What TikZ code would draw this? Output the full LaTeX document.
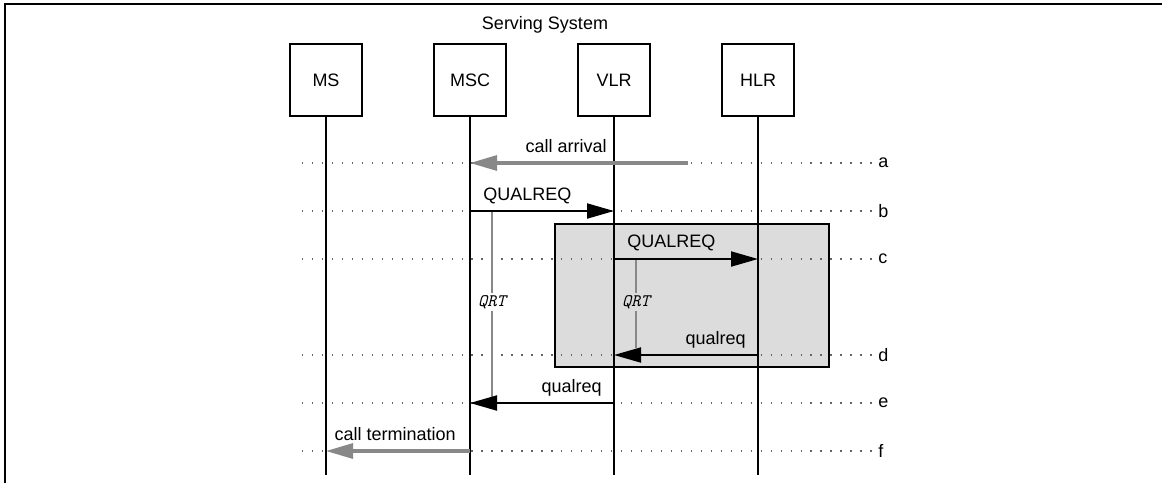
\documentclass[tikz,border=0pt]{standalone}
\usepackage{fontspec}
\setmainfont{Liberation Sans}
\usepackage{tikz}
\usetikzlibrary{arrows.meta, positioning}

\definecolor{boxgrey}{RGB}{220,220,220}
\definecolor{extgrey}{RGB}{136,136,136}

\tikzset{
    entity/.style={draw, line width=1.1pt, minimum width=1.8cm, minimum height=1.8cm,
        inner sep=0pt, font=\fontsize{12.8}{15}\selectfont},
    lifeline/.style={line width=1.1pt},
    rowline/.style={black!60, line width=1pt, dash pattern=on 0.9pt off 6.19pt},
    rowlbl/.style={anchor=west, inner sep=0pt, font=\fontsize{12.8}{15}\selectfont},
    msg/.style={line width=1.4pt, -{Triangle[length=6.75mm,width=3.75mm]}},
    extmsg/.style={extgrey, line width=2.2pt, -{Triangle[length=6.75mm,width=3.75mm]}},
    msglbl/.style={inner sep=0pt, font=\fontsize{12.8}{15}\selectfont},
    timer/.style={extgrey, line width=1.1pt},
    timerlbl/.style={inner sep=1.5pt, font=\ttfamily\itshape\fontsize{12.5}{14}\selectfont},
}

\begin{document}
\begin{tikzpicture}[x=0.025cm, y=-0.025cm]

    \useasboundingbox (0,0) rectangle (1162,483);

    % ==========================================
    % 1. CORNICE E TITOLO
    % ==========================================
    \draw[line width=1.4pt] (5,483) -- (5,4) -- (1162,4);
    \node[msglbl] (titolo) at (545,25) {Serving System};

    % ==========================================
    % 2. RIQUADRO GRIGIO (VLR - HLR)
    % ==========================================
    \draw[line width=1.1pt, fill=boxgrey] (555,224) rectangle (829,367);

    % ==========================================
    % 3. RIGHE TRATTEGGIATE a ... f
    % ==========================================
    \coordinate (ra) at (302,163);
    \coordinate (rb) at (302,211);
    \coordinate (rc) at (302,259);
    \coordinate (rd) at (302,355);
    \coordinate (re) at (302,403);
    \coordinate (rf) at (302,451);

    \node[rowlbl] (la) at (878,163) {a};
    \node[rowlbl] (lb) at (878,211) {b};
    \node[rowlbl] (lc) at (878,259) {c};
    \node[rowlbl] (ld) at (878,355) {d};
    \node[rowlbl] (le) at (878,403) {e};
    \node[rowlbl] (lf) at (878,451) {f};

    \draw[rowline] (ra) -- (la.west);
    \draw[rowline] (rb) -- (lb.west);
    \draw[rowline] (rc) -- (lc.west);
    \draw[rowline] (rd) -- (ld.west);
    \draw[rowline] (re) -- (le.west);
    \draw[rowline] (rf) -- (lf.west);

    % ==========================================
    % 4. ENTITA' E LINEE DI VITA
    % ==========================================
    \node[entity] (ms)  at (326,80) {MS};
    \node[entity] (msc) at (470,80) {MSC};
    \node[entity] (vlr) at (614,80) {VLR};
    \node[entity] (hlr) at (758,80) {HLR};

    \coordinate (fondo) at (0,475);
    \draw[lifeline] (ms.south)  -- (ms.south |- fondo);
    \draw[lifeline] (msc.south) -- (msc.south |- fondo);
    \draw[lifeline] (vlr.south) -- (vlr.south |- fondo);
    \draw[lifeline] (hlr.south) -- (hlr.south |- fondo);

    % ==========================================
    % 5. TIMER QRT
    % ==========================================
    \draw[timer] (492,211) coordinate (qrt1start) -- (492,397) coordinate (qrt1end);
    \node[timerlbl, fill=white] (qrt1) at (492,302) {QRT};
    \draw[timer] (636,259) coordinate (qrt2start) -- (636,348) coordinate (qrt2end);
    \node[timerlbl, fill=boxgrey] (qrt2) at (636,302) {QRT};

    % ==========================================
    % 6. MESSAGGI
    % ==========================================
    \coordinate (arrivo) at (688,163);
    \draw[extmsg] (arrivo) -- (msc |- ra);
    \node[msglbl, anchor=base east] (callarrival) at (607,152) {call arrival};

    \draw[msg] (msc |- rb) -- (vlr |- rb);
    \node[msglbl, anchor=base west] (qualreqb) at (483,200) {QUALREQ};

    \draw[msg] (vlr |- rc) -- (hlr |- rc);
    \node[msglbl, anchor=base west] (qualreqc) at (627,247) {QUALREQ};

    \draw[msg] (hlr |- rd) -- (vlr |- rd);
    \node[msglbl, anchor=base east] (qualreqd) at (746,344) {qualreq};

    \draw[msg] (vlr |- re) -- (msc |- re);
    \node[msglbl, anchor=base east] (qualreqe) at (602,392) {qualreq};

    \draw[extmsg] (msc |- rf) -- (ms |- rf);
    \node[msglbl, anchor=base east] (calltermination) at (456,440) {call termination};

\end{tikzpicture}
\end{document}
